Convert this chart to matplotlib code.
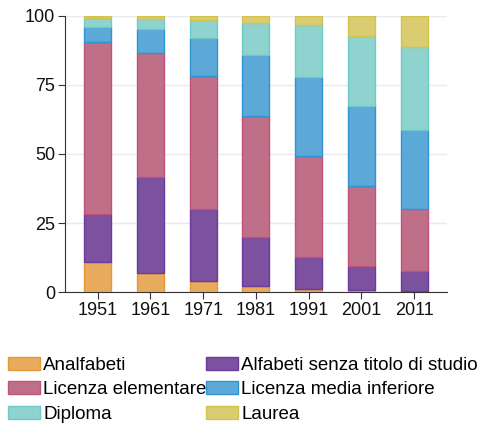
import numpy as np
import matplotlib
matplotlib.use("Agg")
import matplotlib.pyplot as plt

plt.rcParams['font.family'] = ['Liberation Sans', 'DejaVu Sans']

anni = ['1951', '1961', '1971', '1981', '1991', '2001', '2011']
categorie = ['Analfabeti', 'Alfabeti senza titolo di studio', 'Licenza elementare',
             'Licenza media inferiore', 'Diploma', 'Laurea']

analfabeti = [10.8, 7.0, 4.1, 2.3, 1.2, 0.7, 0.5]
alfabeti = [17.5, 34.6, 26.1, 17.8, 11.5, 8.8, 7.2]
elementare = [62.3, 44.8, 48.0, 43.6, 36.6, 29.1, 22.3]
media = [5.4, 8.7, 13.6, 22.1, 28.4, 28.6, 28.8]
diploma = [3.3, 3.7, 6.6, 11.4, 18.8, 25.5, 29.9]
laurea = [0.7, 1.2, 1.6, 2.8, 3.5, 7.3, 11.3]

serie = [analfabeti, alfabeti, elementare, media, diploma, laurea]
fill_colors = ['#E8AA5C', '#7C51A0', '#C06F88', '#5CA8D7', '#8ED3CF', '#D9CC71']
edge_colors = ['#E59A36', '#6B3A9C', '#C0527C', '#2F95D2', '#70C9C7', '#D4C24E']

fig = plt.figure(figsize=(4.82, 4.24), dpi=100)
ax = fig.add_axes([0.135, 0.3106, 0.792, 0.6524])

x = np.arange(len(anni))
bottom = np.zeros(len(anni))
for vals, lab, fc, ec in zip(serie, categorie, fill_colors, edge_colors):
    vals = np.array(vals)
    ax.bar(x, vals, width=0.51, bottom=bottom, color=fc, edgecolor=ec,
           linewidth=1, label=lab, zorder=3)
    bottom += vals

ax.set_xlim(-0.62, 6.62)
ax.set_ylim(0, 100)
ax.set_yticks([0, 25, 50, 75, 100])
ax.set_xticks(x)
ax.set_xticklabels(anni)
ax.grid(axis='y', color='#e8eaf0', linewidth=1, zorder=0)
for s in ['top', 'right']:
    ax.spines[s].set_visible(False)
for s in ['left', 'bottom']:
    ax.spines[s].set_color('#333333')
ax.tick_params(labelsize=13, colors='#333333', length=5, pad=2, labelcolor='#111111')

handles, labels = ax.get_legend_handles_labels()
order = [0, 2, 4, 1, 3, 5]
fig.legend([handles[i] for i in order], [labels[i] for i in order],
           ncol=2, loc='upper left', bbox_to_anchor=(0.017, 0.158),
           frameon=False, fontsize=13.5, handlelength=1.7, handleheight=0.7,
           handletextpad=0.16, columnspacing=0.0, labelspacing=0.38,
           borderpad=0.0, borderaxespad=0.0)

fig.savefig('out.png', dpi=100)
